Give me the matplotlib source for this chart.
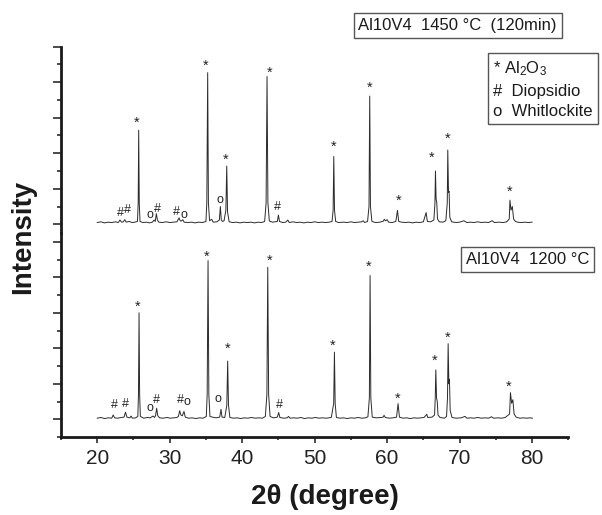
import numpy as np
import matplotlib
matplotlib.use("Agg")
from matplotlib import pyplot as plt
from matplotlib.ticker import MultipleLocator

plt.rcParams["font.family"] = ["Liberation Sans", "DejaVu Sans"]
plt.rcParams["mathtext.default"] = "regular"

# XRD pattern, Al10V4 1450 C (120 min) - vertices (2theta, counts)
top_x = [20.0, 20.5, 21.0, 21.5, 22.0, 22.5, 22.9, 23.14, 23.35, 23.6, 23.8, 24.0, 24.4, 24.8,
         25.2, 25.55, 25.65, 25.72, 25.8, 25.9, 26.3, 26.8, 27.2, 27.6, 27.84, 28.0, 28.16, 28.3,
         28.5, 29.0, 29.5, 30.0, 30.5, 31.0, 31.29, 31.45, 31.6, 31.8, 32.0, 32.5, 33.0, 33.5,
         34.0, 34.5, 35.0, 35.12, 35.24, 35.34, 35.5, 35.8, 36.0, 36.5, 36.85, 36.99, 37.12, 37.3,
         37.5, 37.75, 37.87, 37.98, 38.2, 38.7, 39.2, 39.7, 40.2, 40.7, 41.2, 41.7, 42.2, 42.7,
         43.1, 43.3, 43.43, 43.55, 43.75, 44.2, 44.85, 45.0, 45.15, 45.6, 46.0, 46.3, 46.5, 47.0,
         47.5, 48.0, 48.5, 49.0, 49.5, 50.0, 50.5, 51.0, 51.5, 52.0, 52.4, 52.55, 52.64, 52.74,
         52.9, 53.3, 54.0, 54.5, 55.0, 55.5, 56.0, 56.5, 56.7, 56.9, 57.3, 57.5, 57.6, 57.7,
         57.9, 58.4, 59.0, 59.5, 59.6, 59.8, 60.0, 60.2, 60.7, 61.2, 61.43, 61.6, 62.0, 62.5,
         63.0, 63.5, 64.0, 64.5, 65.0, 65.38, 65.55, 66.0, 66.45, 66.6, 66.67, 66.76, 66.85, 66.95,
         67.2, 67.7, 68.1, 68.3, 68.37, 68.47, 68.55, 68.65, 68.9, 69.5, 70.0, 70.6, 71.0, 71.5,
         72.0, 72.5, 73.0, 73.5, 74.0, 74.5, 74.8, 75.5, 76.0, 76.5, 76.85, 76.95, 77.1, 77.28,
         77.45, 77.7, 78.0, 78.5, 79.0, 79.5, 80.0]
top_y = [5, 7, 4, 6, 5, 7, 5, 12, 6, 7, 13, 6, 8, 5,
         6, 8, 60, 265, 60, 8, 5, 6, 4, 6, 12, 8, 30, 12,
         6, 5, 7, 5, 6, 7, 18, 10, 9, 13, 6, 5, 6, 4,
         6, 5, 8, 60, 427, 60, 10, 14, 6, 7, 12, 50, 12, 8,
         10, 40, 164, 35, 7, 5, 6, 4, 6, 5, 6, 4, 6, 5,
         8, 60, 416, 60, 9, 6, 8, 26, 8, 5, 6, 12, 5, 7,
         5, 6, 4, 6, 5, 7, 5, 6, 5, 6, 8, 40, 191, 40,
         8, 5, 6, 5, 7, 5, 6, 7, 10, 5, 8, 50, 361, 50,
         8, 5, 6, 9, 14, 10, 13, 6, 5, 8, 39, 8, 6, 5,
         6, 4, 6, 5, 7, 33, 8, 7, 12, 60, 150, 70, 62, 15,
         7, 6, 10, 60, 209, 90, 93, 20, 7, 5, 6, 10, 5, 6,
         5, 7, 5, 6, 5, 10, 5, 6, 5, 7, 15, 68, 40, 50,
         15, 8, 6, 5, 6, 5, 6]

# XRD pattern, Al10V4 1200 C
bot_x = [20.0, 20.5, 21.0, 21.5, 22.0, 22.2, 22.4, 22.8, 23.3, 23.7, 23.9, 24.1, 24.5, 24.66,
         24.85, 25.3, 25.6, 25.69, 25.77, 25.85, 25.95, 26.4, 26.9, 27.3, 27.7, 27.9, 28.05, 28.2,
         28.35, 28.6, 29.1, 29.6, 30.1, 30.6, 31.0, 31.2, 31.38, 31.55, 31.75, 31.97, 32.15, 32.6,
         33.1, 33.6, 34.1, 34.6, 35.05, 35.17, 35.29, 35.4, 35.55, 35.9, 36.4, 36.9, 37.08, 37.22,
         37.6, 37.88, 38.0, 38.11, 38.3, 38.8, 39.3, 39.8, 40.3, 40.8, 41.3, 41.8, 42.3, 42.8,
         43.2, 43.41, 43.53, 43.65, 43.85, 44.3, 44.85, 45.04, 45.2, 45.7, 46.2, 46.4, 46.6, 47.1,
         47.6, 48.1, 48.6, 49.1, 49.6, 50.1, 50.6, 51.1, 51.6, 52.0, 52.3, 52.63, 52.73, 52.83,
         53.0, 53.5, 54.0, 54.5, 55.0, 55.5, 56.0, 56.5, 57.0, 57.35, 57.55, 57.65, 57.75, 57.95,
         58.5, 59.2, 59.45, 59.58, 59.75, 60.3, 60.8, 61.3, 61.51, 61.7, 62.2, 62.7, 63.2, 63.7,
         64.2, 64.7, 65.1, 65.47, 65.6, 66.2, 66.55, 66.64, 66.72, 66.82, 66.92, 67.02, 67.3, 67.9,
         68.2, 68.33, 68.42, 68.52, 68.6, 68.7, 68.95, 69.5, 70.2, 70.76, 71.0, 71.5, 72.0, 72.5,
         73.0, 73.5, 74.0, 74.4, 74.7, 75.3, 75.8, 76.3, 76.9, 77.02, 77.18, 77.35, 77.52, 77.8,
         78.3, 78.8, 79.3, 79.7, 80.05]
bot_y = [3, 5, 2, 4, 3, 12, 4, 3, 5, 6, 20, 6, 4, 9,
         3, 4, 8, 70, 300, 70, 8, 3, 5, 4, 9, 5, 10, 31,
         10, 4, 3, 5, 3, 4, 5, 8, 24, 12, 10, 22, 6, 3,
         4, 2, 4, 3, 8, 70, 447, 70, 8, 6, 4, 6, 28, 6,
         5, 40, 164, 40, 5, 3, 4, 2, 4, 3, 5, 3, 4, 3,
         8, 70, 428, 70, 8, 4, 6, 19, 5, 3, 4, 8, 3, 4,
         3, 5, 2, 4, 3, 5, 3, 4, 3, 4, 5, 45, 189, 45,
         5, 3, 4, 2, 4, 3, 5, 3, 4, 7, 60, 405, 60, 6,
         4, 5, 6, 11, 5, 3, 4, 6, 44, 6, 3, 4, 2, 4,
         3, 4, 5, 14, 5, 6, 12, 60, 139, 60, 50, 12, 5, 3,
         8, 60, 213, 100, 113, 25, 5, 3, 4, 8, 3, 4, 3, 5,
         3, 4, 3, 7, 3, 4, 3, 5, 15, 75, 45, 55, 15, 6,
         3, 4, 3, 4, 3]

# phase marks: symbol, 2theta, height of the mark (counts)
top_marks = ["*", "*", "*", "*", "*", "*", "*", "*", "*", "*",
             "#", "#", "o", "#", "#", "o", "o", "#"]
top_mark_x = [25.44, 35.01, 37.73, 43.75, 52.64, 57.61, 61.61, 66.2, 68.28, 76.88,
              23.14, 24.1, 27.3, 28.35, 30.97, 31.98, 36.99, 44.86]
top_mark_y = [299, 458, 193, 440, 230, 397, 80, 200, 252, 104,
              36, 43, 28, 48, 40, 26, 68, 52]

bot_marks = ["*", "*", "*", "*", "*", "*", "*", "*", "*", "*",
             "#", "#", "o", "#", "#", "o", "o", "#"]
bot_mark_x = [25.53, 35.1, 38.0, 43.75, 52.5, 57.51, 61.47, 66.62, 68.37, 76.83,
              22.32, 23.87, 27.28, 28.2, 31.47, 32.35, 36.67, 45.13]
bot_mark_y = [330, 469, 211, 459, 221, 441, 71, 176, 242, 103,
              45, 47, 31, 57, 57, 48, 59, 45]

x_ticks = [20, 30, 40, 50, 60, 70, 80]

W, H = 602, 515
fig = plt.figure(figsize=(W / 100, H / 100), dpi=100)

left = 61 / W
width = (568.3 - 61) / W
ax_bot = fig.add_axes([left, (H - 437) / H, width, (437 - 233) / H])
ax_top = fig.add_axes([left, (H - 233) / H, width, (233 - 46.7) / H], sharex=ax_bot)
ax_top.patch.set_alpha(0)
ax_bot.patch.set_alpha(0)

line_col = "#2b2b2b"
ax_top.plot(top_x, top_y, color=line_col, lw=0.7)
ax_bot.plot(bot_x, bot_y, color=line_col, lw=0.7)

ax_top.set_ylim(-24.5, 500)
ax_bot.set_ylim(-50, 524.8)
ax_bot.set_xlim(15, 85)

# size and offset of the glyph centre above its baseline (points)
glyph_size = {"*": 10.5, "#": 9, "o": 9}
glyph_off = {"*": 6.1, "#": 3.2, "o": 2.3}
for ax, marks, mx, my in [(ax_top, top_marks, top_mark_x, top_mark_y),
                          (ax_bot, bot_marks, bot_mark_x, bot_mark_y)]:
    for s, xx, yy in zip(marks, mx, my):
        ax.annotate(s, (xx, yy), xytext=(0, -glyph_off[s]), textcoords="offset points",
                    ha="center", va="baseline", fontsize=glyph_size[s], color="#222222")

for ax in (ax_top, ax_bot):
    for side in ("top", "right"):
        ax.spines[side].set_visible(False)
    ax.spines["left"].set_linewidth(2)
    ax.spines["left"].set_color("#1a1a1a")
    ax.yaxis.set_major_locator(MultipleLocator(100))
    ax.yaxis.set_minor_locator(MultipleLocator(50))
    ax.tick_params(axis="y", which="major", direction="out", length=5.8, width=1.1,
                   color="#1a1a1a", labelleft=False)
    ax.tick_params(axis="y", which="minor", direction="out", length=2.9, width=1.1,
                   color="#1a1a1a")

ax_top.spines["bottom"].set_visible(False)
ax_top.tick_params(axis="x", which="both", bottom=False, labelbottom=False)

ax_bot.spines["bottom"].set_linewidth(2)
ax_bot.spines["bottom"].set_color("#1a1a1a")
ax_bot.set_xticks(x_ticks)
ax_bot.xaxis.set_minor_locator(MultipleLocator(5))
ax_bot.tick_params(axis="x", which="major", direction="out", length=4.3, width=1.1,
                   color="#1a1a1a", labelsize=15, labelcolor="#222222", pad=4)
ax_bot.tick_params(axis="x", which="minor", direction="out", length=2.2, width=1.1,
                   color="#1a1a1a")

fig.text(325 / W, 1 - 497 / H, "2θ (degree)", ha="center", va="center",
         fontsize=20, fontweight="bold", color="#1a1a1a")
fig.text(23 / W, 1 - 237 / H, "Intensity", ha="center", va="center", rotation=90,
         fontsize=20, fontweight="bold", color="#1a1a1a")

box = dict(boxstyle="square,pad=0.3", fc="white", ec="#555555", lw=1)
fig.text(557 / W, 1 - 25.5 / H, "Al10V4  1450 °C  (120min)", ha="right", va="center",
         fontsize=12, color="#1a1a1a", bbox=box)
fig.text(465.7 / W, 1 - 259.5 / H, "Al10V4  1200 °C", ha="left", va="center",
         fontsize=12, color="#1a1a1a", bbox=box)
fig.text(493 / W, 1 - 89.5 / H, "* Al$_2$O$_3$\n#  Diopsidio\no  Whitlockite", ha="left",
         va="center", fontsize=12, color="#1a1a1a", linespacing=1.45,
         bbox=dict(boxstyle="square,pad=0.3", fc="white", ec="#555555", lw=1))

fig.savefig("out.png", dpi=100)
